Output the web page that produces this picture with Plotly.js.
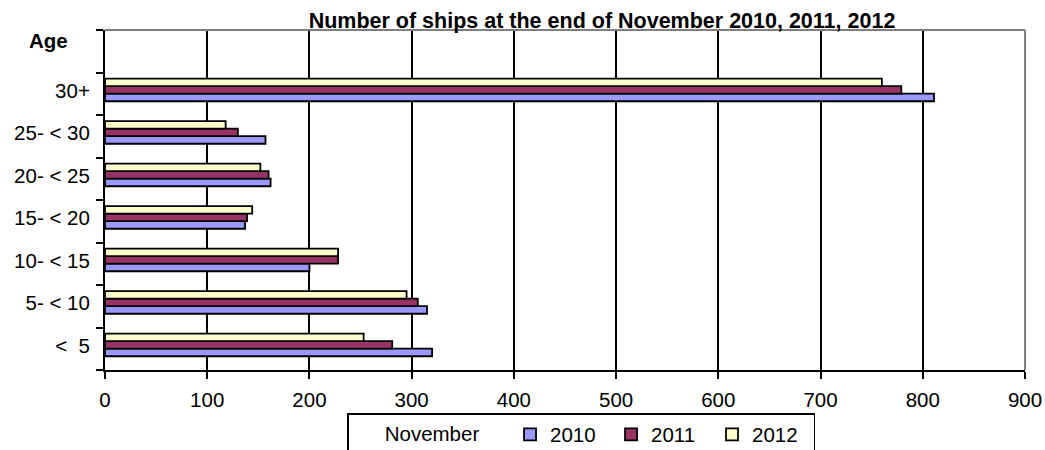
<!DOCTYPE html>
<html>
<head>
<meta charset="utf-8">
<script src="https://cdn.plot.ly/plotly-3.0.1.min.js"></script>
<style>html,body{margin:0;padding:0;background:#fff;}#chart{width:1045px;height:450px;}</style>
</head>
<body>
<div id="chart"></div>
<script>
const categories = ["<  5", "5- < 10", "10- < 15", "15- < 20", "20- < 25", "25- < 30", "30+"];
const years = ["2010", "2011", "2012"];
const values2010 = [320, 315, 200, 137, 162, 157, 811];
const values2011 = [281, 306, 228, 139, 160, 130, 779];
const values2012 = [253, 295, 228, 144, 152, 118, 760];
const xTicks = [0, 100, 200, 300, 400, 500, 600, 700, 800, 900];

const colors = ["#9999FF", "#993366", "#FFFFCC"];
const series = [values2010, values2011, values2012];
const barWidth = 0.178;
const offsets = [-0.176, 0.002, 0.18];
const FONT = "Liberation Sans, Arial, sans-serif";
const FS = 20.5;
const nb = n => "&nbsp;".repeat(n);

const traces = series.map((vals, i) => ({
  type: "bar",
  orientation: "h",
  name: years[i],
  y: categories,
  x: vals,
  width: barWidth,
  offset: offsets[i],
  marker: {color: colors[i], line: {color: "#000", width: 1.8}},
  hoverinfo: "x+name"
}));

const layout = {
  width: 1045, height: 450,
  margin: {l: 105, r: 20, t: 30, b: 80, autoexpand: false},
  paper_bgcolor: "#fff", plot_bgcolor: "#fff",
  font: {family: FONT, size: FS, color: "#000"},
  barmode: "group",
  showlegend: true,
  title: {
    text: "<b>Number of ships at the end of November 2010, 2011, 2012</b>",
    font: {family: FONT, size: 21.5, color: "#000"},
    xref: "paper", x: (602 - 105) / 920, xanchor: "center",
    yref: "container", y: 1 - 20 / 450, yanchor: "middle"
  },
  xaxis: {
    range: [0, 900],
    tickvals: xTicks,
    ticktext: xTicks.map(String),
    showgrid: true, gridcolor: "#000", gridwidth: 2,
    showline: true, linecolor: "#000", linewidth: 2,
    ticks: "outside", ticklen: 7, tickwidth: 2, tickcolor: "#000",
    ticklabelstandoff: 3,
    zeroline: false, fixedrange: true,
    tickfont: {family: FONT, size: FS, color: "#000"}
  },
  yaxis: {
    type: "category",
    categoryorder: "array",
    categoryarray: categories.concat([" "]),
    range: [-0.5, 7.5],
    showgrid: false,
    showline: true, linecolor: "#000", linewidth: 2,
    ticks: "outside", ticklen: 7, tickwidth: 2, tickcolor: "#000",
    tickson: "boundaries",
    ticklabelstandoff: 9,
    ticklabelshift: -3,
    zeroline: false, fixedrange: true,
    tickfont: {family: FONT, size: FS, color: "#000"}
  },
  legend: {
    orientation: "h",
    x: (347 - 105) / 920, xanchor: "left",
    y: (370 - 413) / 340, yanchor: "top",
    bgcolor: "#fff", bordercolor: "#000", borderwidth: 1.5,
    font: {family: FONT, size: FS, color: "#000"},
    title: {text: nb(6) + "November" + nb(4), side: "left", font: {family: FONT, size: FS, color: "#000"}},
    traceorder: "normal",
    entrywidth: 56,
    itemwidth: 30
  },
  shapes: [
    {type: "line", xref: "paper", yref: "paper", x0: 0, x1: 1, y0: 1, y1: 1, line: {color: "#808080", width: 2}, layer: "above"},
    {type: "line", xref: "paper", yref: "paper", x0: 1, x1: 1, y0: 0, y1: 1, line: {color: "#808080", width: 2}, layer: "above"}
  ],
  annotations: [
    {text: "<b>Age</b>", xref: "paper", yref: "paper", x: (48 - 105) / 920, y: (370 - 40) / 340,
     xanchor: "center", yanchor: "middle", showarrow: false, font: {family: FONT, size: FS, color: "#000"}}
  ]
};

Plotly.newPlot("chart", traces, layout, {displayModeBar: false, staticPlot: true});
</script>
</body>
</html>
